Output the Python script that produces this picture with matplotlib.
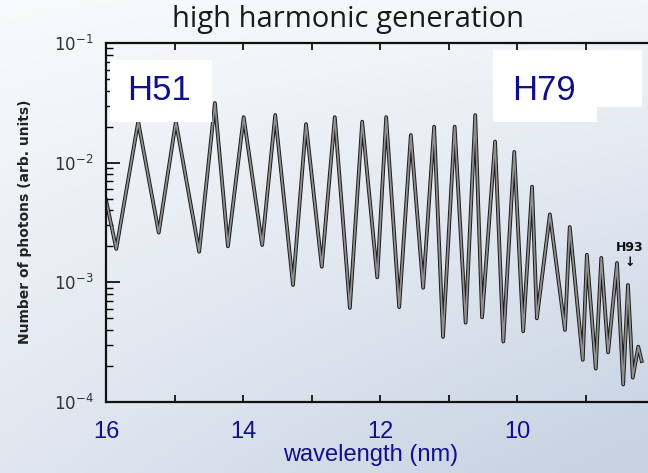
import numpy as np
import matplotlib.pyplot as plt
import matplotlib.patheffects as pe
from matplotlib.patches import Rectangle

# spectrum (peak / trough turning points)
wavelength = [16.00, 15.85, 15.53, 15.23, 14.98, 14.64, 14.41, 14.22, 13.99, 13.72,
              13.53, 13.27, 13.08, 12.85, 12.66, 12.44, 12.26, 12.04, 11.91, 11.72,
              11.55, 11.37, 11.21, 11.08, 10.91, 10.75, 10.61, 10.51, 10.32, 10.20,
              10.04, 9.91, 9.78, 9.71, 9.52, 9.30, 9.23, 9.04, 8.98, 8.85,
              8.77, 8.67, 8.54, 8.45, 8.38, 8.31, 8.23, 8.18]
photons = [4.9e-3, 1.9e-3, 2.2e-2, 2.6e-3, 2.2e-2, 1.8e-3, 3.15e-2, 2.0e-3, 2.4e-2, 2.05e-3,
           2.5e-2, 9.5e-4, 2.1e-2, 1.35e-3, 2.4e-2, 6.1e-4, 2.2e-2, 1.1e-3, 2.4e-2, 6.2e-4,
           1.7e-2, 9.0e-4, 2.0e-2, 3.5e-4, 2.0e-2, 4.6e-4, 2.5e-2, 5.1e-4, 1.5e-2, 3.2e-4,
           1.23e-2, 3.9e-4, 6.3e-3, 5.0e-4, 3.7e-3, 4.0e-4, 2.9e-3, 2.25e-4, 1.7e-3, 1.9e-4,
           1.6e-3, 2.6e-4, 1.45e-3, 1.4e-4, 9.5e-4, 1.6e-4, 2.9e-4, 2.2e-4]

xticks = [16, 14, 12, 10, 8]
xticklabels = ['16', '14', '12', '10', '8']
yticks = [1e-4, 1e-3, 1e-2, 1e-1]
yticklabels = [r'$10^{-4}$', r'$10^{-3}$', r'$10^{-2}$', r'$10^{-1}$']

navy = '#10108a'
W, H = 648, 473

fig = plt.figure(figsize=(6.48, 4.73), dpi=100)

# slide background
bg = fig.add_axes([0, 0, 1, 1], zorder=-5)
yy, xx = np.mgrid[0:1:200j, 0:1:200j]
t = np.clip(0.5 * yy + 0.45 * xx * yy + 0.12 * xx, 0, 1)
c0 = np.array([0.975, 0.98, 0.99])
c1 = np.array([0.78, 0.83, 0.89])
img = c0[None, None, :] * (1 - t[..., None]) + c1[None, None, :] * t[..., None]
bg.imshow(img, aspect='auto', extent=[0, 1, 0, 1], origin='upper')
bg.axis('off')

ax = fig.add_axes([106 / W, 1 - 402 / H, (654 - 106) / W, (402 - 43) / H])
ax.patch.set_alpha(0)
ax.plot(wavelength, photons, color='#909090', lw=1.3,
        path_effects=[pe.Stroke(linewidth=2.7, foreground='#1a1a1a'), pe.Normal()])
ax.set_yscale('log')
ax.set_xlim(16, 8)
ax.set_ylim(1e-4, 1e-1)

ax.set_xticks(xticks)
ax.set_xticklabels(xticklabels, fontsize=17, color=navy, family='Liberation Sans')
ax.set_xticks([15, 13, 11, 9], minor=True)
ax.set_yticks(yticks)
ax.set_yticklabels(yticklabels, fontsize=12, color='#333333')
ax.tick_params(axis='x', which='both', direction='in', top=True, length=5, width=1.2, pad=14)
ax.tick_params(axis='y', which='major', direction='in', length=10, width=1.2, pad=9)
ax.tick_params(axis='y', which='minor', direction='in', length=5, width=1.0)
for s in ax.spines.values():
    s.set_linewidth(1.6)
    s.set_color('#111111')

fig.text(348 / W, 1 - 20 / H, 'high harmonic generation', fontsize=21,
         family='Open Sans', color='#1a1a1a', ha='center', va='center')
fig.text(25 / W, 1 - 222 / H, 'Number of photons (arb. units)', fontsize=10,
         fontweight='bold', color='#222222', rotation=90, ha='center', va='center')
fig.text(371 / W, 1 - 455 / H, 'wavelength (nm)', fontsize=17, color=navy,
         family='Liberation Sans', ha='center', va='center')

# label boxes
for (x0, y0, x1, y1) in [(110, 60, 212, 122), (493, 50, 642, 107), (493, 50, 597, 122)]:
    fig.patches.append(Rectangle((x0 / W, 1 - y1 / H), (x1 - x0) / W, (y1 - y0) / H,
                                 transform=fig.transFigure, facecolor='white',
                                 edgecolor='none', zorder=5))
fig.text(159 / W, 1 - 90 / H, 'H51', fontsize=25, color=navy, family='Liberation Sans',
         ha='center', va='center', zorder=6)
fig.text(544 / W, 1 - 90 / H, 'H79', fontsize=25, color=navy, family='Liberation Sans',
         ha='center', va='center', zorder=6)
fig.text(630 / W, 1 - 247 / H, 'H93', fontsize=9, fontweight='bold', color='#111111',
         ha='center', va='center', zorder=6)
fig.text(630 / W, 1 - 263 / H, '↓', fontsize=9, fontweight='bold', color='#111111',
         ha='center', va='center', zorder=6)

fig.savefig('out.png', dpi=100)
